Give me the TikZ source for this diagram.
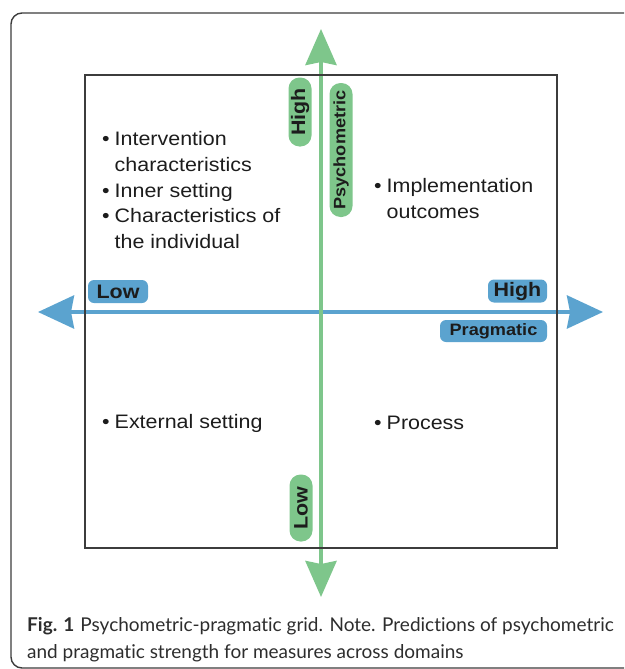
\documentclass[tikz,border=0pt]{standalone}
\usepackage{fontspec}
\setmainfont{Liberation Sans}
\newfontfamily\labelfont[FakeStretch=1.1]{Liberation Sans}
\newfontfamily\capfont[Ligatures={NoCommon,NoDiscretionary}]{Lato}
\usetikzlibrary{arrows.meta}
\definecolor{axgreen}{RGB}{126,198,139}
\definecolor{axblue}{RGB}{91,163,207}
\definecolor{framegray}{RGB}{60,60,60}
\definecolor{inkdark}{RGB}{28,28,28}
\definecolor{capink}{RGB}{45,45,45}
\tikzset{
  gridbox/.style={draw=framegray, line width=2.6pt},
  outerframe/.style={draw=framegray, line width=1.4pt, rounded corners=11pt},
  greenaxis/.style={draw=axgreen, line width=4pt,
    {Stealth[length=36pt,width=31pt,inset=3pt,fill=axgreen]}-{Stealth[length=36pt,width=31pt,inset=3pt,fill=axgreen]}},
  blueaxis/.style={draw=axblue, line width=4pt,
    {Stealth[length=36pt,width=33pt,inset=3pt,fill=axblue]}-{Stealth[length=36pt,width=33pt,inset=3pt,fill=axblue]}},
  greenpill/.style={fill=axgreen, rounded corners=11pt, rotate=90, inner sep=0pt,
    minimum height=23pt, text=inkdark, font=\labelfont\fontsize{19.5}{20}\selectfont\bfseries},
  bluepill/.style={fill=axblue, rounded corners=6pt, inner sep=0pt,
    minimum height=23pt, text=inkdark, font=\labelfont\fontsize{19.5}{20}\selectfont\bfseries},
  itemtext/.style={anchor=west, inner sep=0pt, text=inkdark,
    font=\labelfont\fontsize{19.5}{25.8}\selectfont},
  captext/.style={anchor=base west, inner sep=0pt, text=capink,
    font=\capfont\fontsize{19}{22}\selectfont},
}
\begin{document}
\begin{tikzpicture}[x=1pt,y=-1pt]
  \useasboundingbox (0,0) rectangle (624,669);
  \begin{scope}
    \clip (0,0) rectangle (624,669);
    \draw[outerframe] (11,13) rectangle (660,668);
  \end{scope}

  % axes
  \coordinate (vtop) at (321,29);
  \coordinate (vbot) at (321,597);
  \coordinate (hleft) at (38,312);
  \coordinate (hright) at (603,312);
  \draw[blueaxis] (hleft) -- (hright);
  \draw[greenaxis] (vbot) -- (vtop);

  % quadrant grid
  \draw[gridbox] (85,75) rectangle (557,548);

  % axis labels
  \node[greenpill, minimum width=69pt] (phigh) at (300,112) {High};
  \node[greenpill, minimum width=134pt, font=\labelfont\fontsize{16.5}{18}\selectfont\bfseries] (pname) at (341,150) {Psychometric};
  \node[greenpill, minimum width=67pt] (plow) at (301,508) {Low};
  \node[bluepill, minimum width=60pt] (glow) at (118,291.5) {Low};
  \node[bluepill, minimum width=59pt] (ghigh) at (517.5,291) {High};
  \node[bluepill, minimum width=107pt, minimum height=22pt,
        font=\labelfont\fontsize{16.5}{18}\selectfont\bfseries] (gname) at (493.5,331) {Pragmatic};

  % quadrant contents
  \node[itemtext] (qtl) at (102,192) {\begin{tabular}{@{}l@{\hspace{5pt}}l@{}}
    \textbullet & Intervention\\
                & characteristics\\
    \textbullet & Inner setting\\
    \textbullet & Characteristics of\\
                & the individual
  \end{tabular}};
  \node[itemtext] (qtr) at (374,200) {\begin{tabular}{@{}l@{\hspace{5pt}}l@{}}
    \textbullet & Implementation\\
                & outcomes
  \end{tabular}};
  \node[itemtext] (qbl) at (102,423) {\textbullet\hspace{5pt}External setting};
  \node[itemtext] (qbr) at (374,423) {\textbullet\hspace{5pt}Process};

  % caption
  \node[captext] (cap1) at (27,631) {\textbf{Fig. 1}\hspace{6pt}Psychometric-pragmatic grid. Note. Predictions of psychometric};
  \node[captext] (cap2) at (27,658) {and pragmatic strength for measures across domains};
\end{tikzpicture}
\end{document}
